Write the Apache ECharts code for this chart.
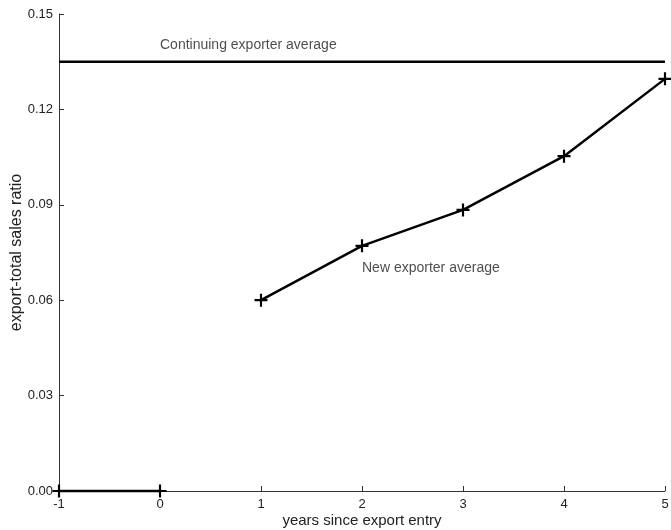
<!DOCTYPE html>
<html><head><meta charset="utf-8">
<script src="https://cdn.jsdelivr.net/npm/echarts@6/dist/echarts.min.js"></script>
<style>html,body{margin:0;padding:0;background:#fff}#c{width:671px;height:530px}</style>
</head><body><div id="c"></div>
<script>
const xTicks = [-1, 0, 1, 2, 3, 4, 5];
const yTicks = [0, 0.03, 0.06, 0.09, 0.12, 0.15];
const preYears = [-1, 0];
const preValues = [0, 0];
const newYears = [1, 2, 3, 4, 5];
const newValues = [0.060, 0.0771, 0.0884, 0.1053, 0.1296];
const continuingValue = 0.135;
const annotations = [
  { text: 'Continuing exporter average', x: 0, y: 0.1402 },
  { text: 'New exporter average', x: 2, y: 0.0701 }
];

const plus = 'path://M-1,-6H1V-1H6V1H1V6H-1V1H-6V-1H-1Z';
const font = 'Liberation Sans, Arial, sans-serif';
const chart = echarts.init(document.getElementById('c'), null, {renderer: 'canvas'});
chart.setOption({
  animation: false,
  backgroundColor: '#fff',
  grid: { left: 59, right: 6, top: 14, bottom: 39, containLabel: false, outerBoundsMode: 'none' },
  xAxis: {
    type: 'value', min: -1, max: 5, interval: 1,
    name: 'years since export entry', nameLocation: 'middle', nameGap: 22, nameMoveOverlap: false,
    nameTextStyle: { fontFamily: font, fontSize: 15, color: '#222' },
    axisLine: { show: true, onZero: false, lineStyle: { color: '#333', width: 1 } },
    axisTick: { show: true, inside: true, length: 5, lineStyle: { color: '#333' } },
    axisLabel: { fontFamily: font, fontSize: 13, color: '#222', margin: 7,
      formatter: v => xTicks.includes(v) ? String(v) : '' },
    splitLine: { show: false }
  },
  yAxis: {
    type: 'value', min: 0, max: 0.15, interval: 0.03,
    name: 'export-total sales ratio', nameLocation: 'middle', nameGap: 34, nameMoveOverlap: false,
    nameTextStyle: { fontFamily: font, fontSize: 16, color: '#222' },
    axisLine: { show: true, onZero: false, lineStyle: { color: '#333', width: 1 } },
    axisTick: { show: true, inside: true, length: 5, lineStyle: { color: '#333' } },
    axisLabel: { fontFamily: font, fontSize: 13, color: '#222', margin: 6,
      formatter: v => { const t = yTicks.find(k => Math.abs(k - v) < 1e-9); return t === undefined ? '' : t.toFixed(2); } },
    splitLine: { show: false }
  },
  series: [
    {
      type: 'line', data: preYears.map((x, i) => [x, preValues[i]]),
      symbol: plus, symbolSize: 13, showAllSymbol: true, clip: false,
      lineStyle: { color: '#000', width: 2.5 }, itemStyle: { color: '#000' }
    },
    {
      type: 'line', data: newYears.map((x, i) => [x, newValues[i]]),
      symbol: plus, symbolSize: 13, showAllSymbol: true, clip: false,
      lineStyle: { color: '#000', width: 2.5 }, itemStyle: { color: '#000' }
    },
    {
      type: 'line', data: [[xTicks[0], continuingValue], [xTicks[xTicks.length - 1], continuingValue]],
      symbol: 'none', lineStyle: { color: '#000', width: 2.5 }
    },
    {
      type: 'scatter', symbolSize: 0,
      data: annotations.map(a => ({ value: [a.x, a.y], label: { formatter: a.text } })),
      label: { show: true, position: 'right', distance: 0, fontFamily: font, fontSize: 14, color: '#222' }
    }
  ]
});
</script></body></html>
